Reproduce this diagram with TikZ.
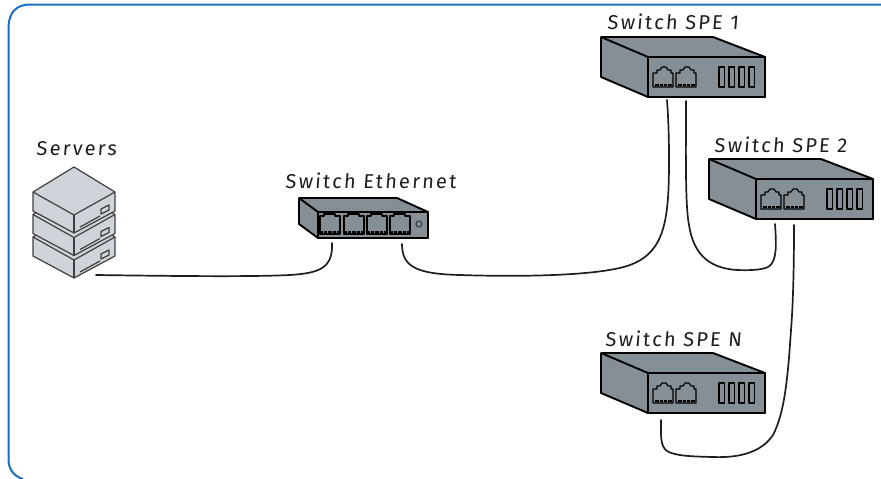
\documentclass[tikz,border=0pt]{standalone}
\usepackage{fontspec}
\setmainfont{Fira Sans}
\newfontfamily\handfont[LetterSpace=11,FakeSlant=0.08]{Fira Sans}
\definecolor{framecol}{HTML}{1C6FC0}
\definecolor{swfill}{HTML}{868E96}
\definecolor{srvfill}{HTML}{CED4DA}
\definecolor{ink}{HTML}{1E1E1E}
\tikzset{
  wire/.style={draw=ink,line width=1.7pt,line cap=round},
  body/.style={draw=black,line width=1.9pt,fill=swfill,line join=round},
  detail/.style={draw=black,line width=1.2pt,line join=round},
  lab/.style={font=\handfont\fontsize{20}{24}\selectfont,text=ink,inner sep=0pt,anchor=base west},
  srv/.style={draw=black!75,line width=1.2pt,fill=srvfill,line join=round},
  swport/.pic={
    \draw[detail] (0,0) -- (0,-14) -- (4,-14) -- (4,-17) -- (7,-17) -- (9,-20) -- (13,-20) -- (15,-17) -- (18,-17) -- (18,-14) -- (20,-14) -- (20,0) -- cycle;
    \draw[black,line width=2.6pt,dash pattern=on .8pt off .5pt] (1.5,-2) -- (18.5,-2);
  },
  spebox/.pic={
    \draw[body] (0,0) -- (112,0) -- (164,20) -- (164,60) -- (47,60) -- (0,40) -- cycle;
    \draw[body] (47,20) -- (164,20) -- (164,60) -- (47,60) -- cycle;
    \draw[body] (0,0) -- (47,20);
    \pic at (52,50) {swport};
    \pic at (75,50) {swport};
    \foreach \vx in {118,128,138,148}{\draw[detail,line width=1.4pt] (\vx,30) rectangle ++(5.5,20);}
  },
  srvbox/.pic={
    \draw[srv] (0,-23) -- (41,-48) -- (82,-23) -- (82,-4) -- (41,18) -- (0,-4) -- cycle;
    \draw[srv] (0,-23) -- (41,0) -- (82,-23);
    \draw[srv] (41,0) -- (41,18);
    \draw[srv] (47,12) -- (67,1);
    \draw[srv] (68,-1) -- (76,-5) -- (76,-10) -- (68,-6) -- cycle;
  }
}
\begin{document}
\begin{tikzpicture}[x=1pt,y=-1pt]
\useasboundingbox (0,0) rectangle (881,479);
% frame
\draw[framecol,line width=2pt] (23,479) .. controls (13,476) and (8,468) .. (8.5,458) -- (8.5,28) .. controls (8.5,13) and (16,4.5) .. (30,4.5) -- (881,4.5);
% servers
\path (33,260) pic {srvbox};
\path (33,237.5) pic {srvbox};
\path (33,215) pic {srvbox};
% switch ethernet
\draw[body] (299,198) -- (397,198) -- (428,212) -- (428,238) -- (318,238) -- (299,224) -- cycle;
\draw[body] (318,212) -- (428,212) -- (428,238) -- (318,238) -- cycle;
\draw[body] (299,198) -- (318,212);
\foreach \px in {320,344,367,390}{
  \draw[detail,line width=1.3pt] (\px,234) -- (\px,216) -- (\px+4,216) -- (\px+4,214) -- (\px+15,214) -- (\px+15,216) -- (\px+20,216) -- (\px+20,234) -- cycle;
  \draw[black,line width=2.2pt,dash pattern=on .8pt off .5pt] (\px+1,232) -- (\px+19,232);
}
\draw[black!80,line width=1pt] (419,224) circle (3);
% SPE switches
\path (601,37) pic {spebox};
\path (709,159) pic {spebox};
\path (601,353) pic {spebox};
% anchors
\coordinate (srvOut) at (96,275);
\coordinate (ethA) at (332,243);
\coordinate (ethB) at (402,244);
\coordinate (spe1a) at (667,100);
\coordinate (spe1b) at (686,101);
\coordinate (spe2a) at (775,224);
\coordinate (spe2b) at (794,225);
\coordinate (speNa) at (661,420);
% wires
\draw[wire] (srvOut) .. controls (170,276) and (250,277) .. (290,275) .. controls (320,273) and (333,268) .. (ethA);
\draw[wire] (ethB) .. controls (402,266) and (415,274) .. (460,275) .. controls (520,277) and (600,276) .. (630,265) .. controls (665,252) and (669,220) .. (669,160) .. controls (669,130) and (668,115) .. (spe1a);
\draw[wire] (spe1b) .. controls (686,150) and (685,205) .. (689,225) .. controls (693,250) and (705,268) .. (737,270) .. controls (750,270.5) and (762,270) .. (768,267) .. controls (778,262) and (776,240) .. (spe2a);
\draw[wire] (spe2b) .. controls (794,270) and (793,305) .. (791,330) .. controls (788,375) and (785,412) .. (773,435) .. controls (761,453) and (738,458) .. (713,457) .. controls (692,456.5) and (675,456) .. (667,451) .. controls (660,446) and (661,435) .. (speNa);
% labels
\node[lab] (lblServers) at (36,155) {Servers};
\node[lab] (lblEth) at (285,188) {Switch Ethernet};
\node[lab] (lblS1) at (607,29) {Switch SPE 1};
\node[lab] (lblS2) at (714,152) {Switch SPE 2};
\node[lab] (lblSN) at (605,346) {Switch SPE N};
\end{tikzpicture}
\end{document}
